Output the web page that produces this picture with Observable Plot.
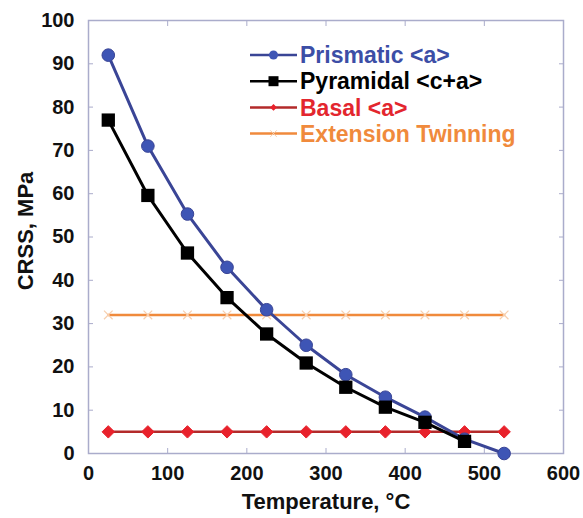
<!DOCTYPE html>
<html>
<head>
<meta charset="utf-8">
<script src="https://cdn.jsdelivr.net/npm/d3@7"></script>
<script src="https://cdn.jsdelivr.net/npm/@observablehq/plot@0.6"></script>
<style>
  html, body { margin: 0; padding: 0; background: #fff; }
  #chart { width: 583px; height: 518px; }
</style>
</head>
<body>
<div id="chart"></div>
<script>
// ---- data ----
const temps = [25, 75, 125, 175, 225, 275, 325, 375, 425, 475, 525];
const prismatic = [92, 71, 55.3, 43, 33.2, 25, 18.2, 13, 8.4, 3.3, 0];
const pyramidalTemps = [25, 75, 125, 175, 225, 275, 325, 375, 425, 475];
const pyramidal = [77, 59.6, 46.3, 36, 27.6, 20.9, 15.3, 10.7, 7.2, 2.8];
const basal = [5, 5, 5, 5, 5, 5, 5, 5, 5, 5, 5];
const twinning = [32, 32, 32, 32, 32, 32, 32, 32, 32, 32, 32];
const seriesNames = ["Prismatic <a>", "Pyramidal <c+a>", "Basal <a>", "Extension Twinning"];
const xTicks = [0, 100, 200, 300, 400, 500, 600];
const yTicks = [0, 10, 20, 30, 40, 50, 60, 70, 80, 90, 100];
const xTitle = "Temperature, °C";
const yTitle = "CRSS, MPa";

// ---- styles ----
const colPrisLine = "#3a4596", colPrisDot = "#3e55b5", colPrisText = "#3c4ea6";
const colPyr = "#000000";
const colBasalLine = "#b32a2a", colBasalDot = "#e8212b", colBasalText = "#e3262e";
const colTwinLine = "#f08a3c", colTwinMark = "#f7cfae", colTwinText = "#f08a3c";
const frameCol = "#aaaccb";
const font = "'Liberation Sans', Arial, Helvetica, sans-serif";

const pris = temps.map((t, i) => ({t, v: prismatic[i]}));
const pyr = pyramidalTemps.map((t, i) => ({t, v: pyramidal[i]}));
const bas = temps.map((t, i) => ({t, v: basal[i]}));
const twin = temps.map((t, i) => ({t, v: twinning[i]}));

const T = 5; // inward tick length
const chart = Plot.plot({
  width: 583,
  height: 518,
  marginLeft: 88,
  marginRight: 20,
  marginTop: 20,
  marginBottom: 65,
  style: {fontFamily: font, background: "#fff", overflow: "visible"},
  x: {domain: [0, 600]},
  y: {domain: [0, 100]},
  marks: [
    // inward ticks on all four sides
    Plot.axisX(xTicks, {anchor: "bottom", tickSize: T, dy: -T, text: null, stroke: frameCol, label: null}),
    Plot.axisX(xTicks, {anchor: "top", tickSize: T, dy: T, text: null, stroke: frameCol, label: null}),
    Plot.axisY(yTicks, {anchor: "left", tickSize: T, dx: T, text: null, stroke: frameCol, label: null}),
    Plot.axisY(yTicks, {anchor: "right", tickSize: T, dx: -T, text: null, stroke: frameCol, label: null}),
    // tick labels
    Plot.axisX(xTicks, {anchor: "bottom", tickSize: 0, tickPadding: 12, fontSize: 20, fontWeight: "bold", fill: "#111", label: null}),
    Plot.axisY(yTicks, {anchor: "left", tickSize: 0, tickPadding: 14, fontSize: 20, fontWeight: "bold", fill: "#111", label: null}),
    Plot.frame({stroke: frameCol, strokeWidth: 1.5}),
    // axis titles
    Plot.text([xTitle], {frameAnchor: "bottom", lineAnchor: "middle", textAnchor: "middle", dy: 48, fontSize: 22, fontWeight: "bold", fill: "#111", text: d => d}),
    Plot.text([yTitle], {frameAnchor: "left", lineAnchor: "middle", textAnchor: "middle", dx: -63, dy: -6, rotate: -90, fontSize: 22, fontWeight: "bold", fill: "#111", text: d => d}),
    // Extension twinning
    Plot.line(twin, {x: "t", y: "v", stroke: colTwinLine, strokeWidth: 2.5}),
    Plot.dot(twin, {x: "t", y: "v", symbol: "times", r: 4, stroke: colTwinMark, strokeWidth: 1.2}),
    // Basal
    Plot.line(bas, {x: "t", y: "v", stroke: colBasalLine, strokeWidth: 2.5}),
    Plot.dot(bas, {x: "t", y: "v", symbol: "diamond2", r: 5.6, fill: colBasalDot, stroke: colBasalDot, strokeWidth: 1}),
    // Prismatic
    Plot.line(pris, {x: "t", y: "v", stroke: colPrisLine, strokeWidth: 3}),
    Plot.dot(pris, {x: "t", y: "v", r: 6.3, fill: colPrisDot, stroke: colPrisLine, strokeWidth: 1}),
    // Pyramidal
    Plot.line(pyr, {x: "t", y: "v", stroke: colPyr, strokeWidth: 3}),
    Plot.dot(pyr, {x: "t", y: "v", symbol: "square", r: 7.5, fill: colPyr})
  ]
});
document.getElementById("chart").appendChild(chart);

// ---- legend (inside plot, top-right) ----
const svg = d3.select(chart);
const lg = svg.append("g").attr("font-family", font).attr("font-weight", "bold")
  .attr("font-size", 23).attr("text-anchor", "start");
const legendColors = [colPrisLine, colPyr, colBasalLine, colTwinLine];
const legendText = [colPrisText, colPyr, colBasalText, colTwinText];
const lx0 = 250, lx1 = 297, ly0 = 55, ldy = 26.2;
seriesNames.forEach((name, i) => {
  const y = ly0 + i * ldy;
  lg.append("line").attr("x1", lx0).attr("x2", lx1).attr("y1", y).attr("y2", y)
    .attr("stroke", legendColors[i]).attr("stroke-width", 2.5);
  const cx = (lx0 + lx1) / 2;
  if (i === 0) lg.append("circle").attr("cx", cx).attr("cy", y).attr("r", 4.5).attr("fill", colPrisDot);
  if (i === 1) lg.append("rect").attr("x", cx - 5).attr("y", y - 5).attr("width", 10).attr("height", 10).attr("fill", colPyr);
  if (i === 2) lg.append("path").attr("d", d3.symbol(d3.symbolDiamond2, 30)()).attr("transform", `translate(${cx},${y})`).attr("fill", colBasalDot);
  if (i === 3) lg.append("path").attr("d", d3.symbol(d3.symbolTimes, 30)()).attr("transform", `translate(${cx},${y})`).attr("stroke", colTwinMark).attr("fill", "none");
  lg.append("text").attr("x", lx1 + 3).attr("y", y).attr("dy", "0.36em").attr("fill", legendText[i]).text(name);
});
</script>
</body>
</html>
